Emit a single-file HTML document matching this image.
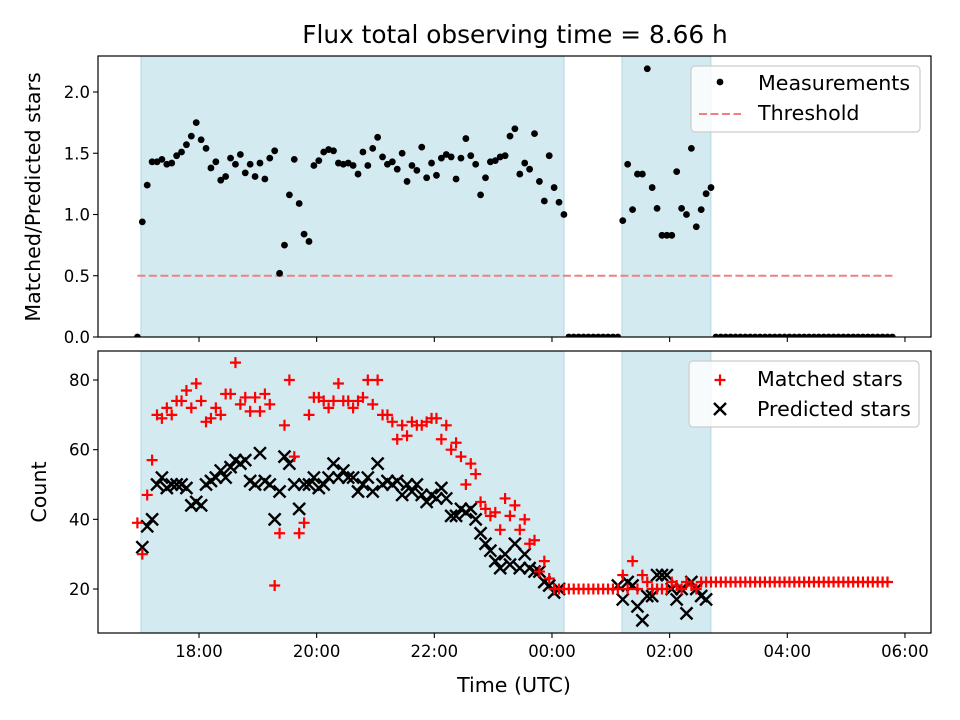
<!DOCTYPE html>
<html><head><meta charset="utf-8"><style>
body{margin:0;background:#fff}
svg{display:block;font-family:"DejaVu Sans","Liberation Sans",sans-serif}
</style></head><body>
<svg id="chart" width="960" height="720" viewBox="0 0 960 720" xmlns="http://www.w3.org/2000/svg"></svg>
<script>
// ---- data ----
const startHour = 16.953;           // first sample time (hours, UTC)
const cadenceHours = 5/60;          // sample cadence
const ratioValues = [0,
0.94,1.24,1.43,1.43,1.45,1.41,1.42,1.48,1.51,1.57,1.64,1.75,1.61,1.54,1.38,1.43,1.28,1.31,1.46,1.41,1.49,1.34,1.41,1.31,1.42,1.29,1.46,1.52,0.52,0.75,1.16,1.45,1.09,0.84,0.78,1.40,1.44,1.51,1.53,1.52,1.42,1.41,1.42,
1.40,1.33,1.51,1.40,1.54,1.63,1.47,1.41,1.43,1.37,1.50,1.27,1.40,1.36,1.55,1.30,1.42,1.32,1.46,1.49,1.47,1.29,1.46,1.62,1.48,1.41,1.16,1.30,1.43,1.44,1.47,1.48,1.64,1.70,1.33,1.42,1.37,1.66,1.27,1.11,1.48,1.22,1.10,1.00,
0,0,0,0,0,0,0,0,0,0,0,
0.95,1.41,1.04,1.33,1.33,2.19,1.22,1.05,0.83,0.83,0.83,1.35,1.05,1.00,1.54,0.90,1.04,1.17,1.22,
0,0,0,0,0,0,0,0,0,0,0,0,0,0,0,0,0,0,0,0,0,0,0,0,0,0,0,0,0,0,0,0,0,0,0,0,0];
const matchedValues = [39,
30,47,57,70,69,72,70,74,74,77,72,79,74,68,69,72,70,76,76,85,73,75,71,75,71,76,73,21,36,67,80,58,36,39,70,75,75,74,72,74,79,74,74,
72,74,75,80,73,80,70,70,68,63,67,64,68,67,67,68,69,69,63,67,60,62,58,50,56,53,45,43,41,42,37,46,41,44,37,40,33,34,25,28,23,20,20,
20,20,20,20,20,20,20,20,20,20,20,
20,24,20,28,20,24,22,20,20,20,20,22,21,20,22,21,20,22,22,
22,22,22,22,22,22,22,22,22,22,22,22,22,22,22,22,22,22,22,22,22,22,22,22,22,22,22,22,22,22,22,22,22,22,22,22,22];
const predictedValues = [null,
32,38,40,50,52,49,50,50,50,49,44,45,44,50,51,52,54,52,55,57,56,57,51,50,59,51,50,40,48,58,56,50,43,50,50,52,49,50,52,56,52,54,52,
52,48,50,52,48,56,50,51,50,51,47,50,48,50,47,45,47,46,49,46,41,41,43,42,43,40,36,33,31,28,26,30,27,33,26,30,26,25,25,22,21,19,20,
null,null,null,null,null,null,null,null,null,null,null,
21,17,22,21,15,11,18,18,24,24,24,20,17,20,13,22,20,18,17,
null,null,null,null,null,null,null,null,null,null,null,null,null,null,null,null,null,null,null,null,null,null,null,null,null,null,null,null,null,null,null,null,null,null,null,null,null];
const observingSpans = [[17.014,24.204],[25.19,26.70]];
const thresholdValue = 0.5;
const xTickHours = [18,20,22,24,26,28,30];
const xTickLabels = ["18:00","20:00","22:00","00:00","02:00","04:00","06:00"];
const topTicks = [0,0.5,1.0,1.5,2.0];
const topTickLabels = ["0.0","0.5","1.0","1.5","2.0"];
const botTicks = [20,40,60,80];

// ---- layout ----
const NS="http://www.w3.org/2000/svg";
const svg=document.getElementById('chart');
const L=98,R=931,T1=56,B1=337,T2=351,B2=633;
const xS=h=>199+(h-18)*58.83;
const yTop=v=>337-v*122.5;
const yBot=v=>589-(v-20)*3.483;
function mk(tag,attrs,parent){const e=document.createElementNS(NS,tag);for(const k in attrs)e.setAttribute(k,attrs[k]);(parent||svg).appendChild(e);return e;}
function txt(s,attrs,parent){const e=mk('text',attrs,parent);e.textContent=s;return e;}
const tHour=i=>startHour+i*cadenceHours;

mk('defs',{}).innerHTML='<clipPath id="c1"><rect x="'+L+'" y="'+T1+'" width="'+(R-L)+'" height="'+(B1-T1)+'"/></clipPath><clipPath id="c2"><rect x="'+L+'" y="'+T2+'" width="'+(R-L)+'" height="'+(B2-T2)+'"/></clipPath>';

function axes(top,bot,clip,name){
  const g=mk('g',{'clip-path':'url(#'+clip+')'});
  
  
  observingSpans.forEach((s,k)=>{
    const r=mk('rect',{x:xS(s[0]),y:top,width:xS(s[1])-xS(s[0]),height:bot-top,fill:'#d4eaf1',stroke:'#b9dbe6','stroke-width':1.2},g);
    
    
  });
  return g;
}
function frame(top,bot,name){
  const f=mk('rect',{x:L,y:top,width:R-L,height:bot-top,fill:'none',stroke:'#000','stroke-width':1.2});
  
  
  xTickHours.forEach(h=>{mk('line',{x1:xS(h),x2:xS(h),y1:bot,y2:bot+5,stroke:'#000','stroke-width':1.1});});
}

// top panel
const g1=axes(T1,B1,'c1','ratio');
const th=mk('line',{x1:xS(tHour(0)),x2:xS(tHour(ratioValues.length-1)),y1:yTop(thresholdValue),y2:yTop(thresholdValue),stroke:'#f08080','stroke-width':2,'stroke-dasharray':'8,3.5'},g1);


ratioValues.forEach((v,i)=>{
  const c=mk('circle',{cx:xS(tHour(i)),cy:yTop(v),r:3.4,fill:'#000'},g1);
  
  
});
frame(T1,B1,'ratio');
topTicks.forEach((v,k)=>{
  mk('line',{x1:L-5,x2:L,y1:yTop(v),y2:yTop(v),stroke:'#000','stroke-width':1.1});
  const t=txt(topTickLabels[k],{x:L-8,y:yTop(v)+6,'text-anchor':'end','font-size':16.5});
  
  
});

// bottom panel
const g2=axes(T2,B2,'c2','count');
predictedValues.forEach((v,i)=>{
  if(v===null)return;
  const x=xS(tHour(i)),y=yBot(v),d=6;
  const p=mk('path',{d:`M${x-d},${y-d}L${x+d},${y+d}M${x-d},${y+d}L${x+d},${y-d}`,stroke:'#000','stroke-width':2.4,fill:'none'},g2);
  
  
});
matchedValues.forEach((v,i)=>{
  const x=xS(tHour(i)),y=yBot(v),d=5.5;
  const p=mk('path',{d:`M${x-d},${y}L${x+d},${y}M${x},${y-d}L${x},${y+d}`,stroke:'#ff0000','stroke-width':2.2,fill:'none'},g2);
  
  
});
frame(T2,B2,'count');
botTicks.forEach(v=>{
  mk('line',{x1:L-5,x2:L,y1:yBot(v),y2:yBot(v),stroke:'#000','stroke-width':1.1});
  const t=txt(String(v),{x:L-8,y:yBot(v)+6,'text-anchor':'end','font-size':16.5});
  
  
});
xTickHours.forEach((h,k)=>{
  const t=txt(xTickLabels[k],{x:xS(h),y:B2+24,'text-anchor':'middle','font-size':16.5});
  
  
});
</script>
<svg style="position:absolute;left:0;top:0" width="960" height="720" xmlns="http://www.w3.org/2000/svg" font-family="DejaVu Sans, Liberation Sans, sans-serif">
  <text x="515" y="43" text-anchor="middle" font-size="24.8">Flux total observing time = 8.66 h</text>
  <text transform="translate(40,197) rotate(-90)" text-anchor="middle" font-size="20.6">Matched/Predicted stars</text>
  <text transform="translate(46,492) rotate(-90)" text-anchor="middle" font-size="20.6">Count</text>
  <text x="514" y="692" text-anchor="middle" font-size="20.6">Time (UTC)</text>
  <g>
    <rect x="691" y="66" width="229" height="66" rx="4" fill="#fff" fill-opacity="0.8" stroke="#ccc" stroke-width="1.2"/>
    <circle cx="720" cy="82" r="3.4" fill="#000"/>
    <text x="758" y="90" font-size="20.6">Measurements</text>
    <line x1="699" x2="741" y1="114" y2="114" stroke="#f08080" stroke-width="2" stroke-dasharray="8,3.5"/>
    <text x="758" y="120" font-size="20.6">Threshold</text>
  </g>
  <g>
    <rect x="689" y="361" width="230" height="66" rx="4" fill="#fff" fill-opacity="0.8" stroke="#ccc" stroke-width="1.2"/>
    <path d="M714.5,380H725.5M720,374.5V385.5" stroke="#ff0000" stroke-width="2.2"/>
    <text x="757" y="386" font-size="20.6">Matched stars</text>
    <path d="M714,403L726,415M714,415L726,403" stroke="#000" stroke-width="2.4"/>
    <text x="757" y="416" font-size="20.6">Predicted stars</text>
  </g>
</svg>
</body></html>
